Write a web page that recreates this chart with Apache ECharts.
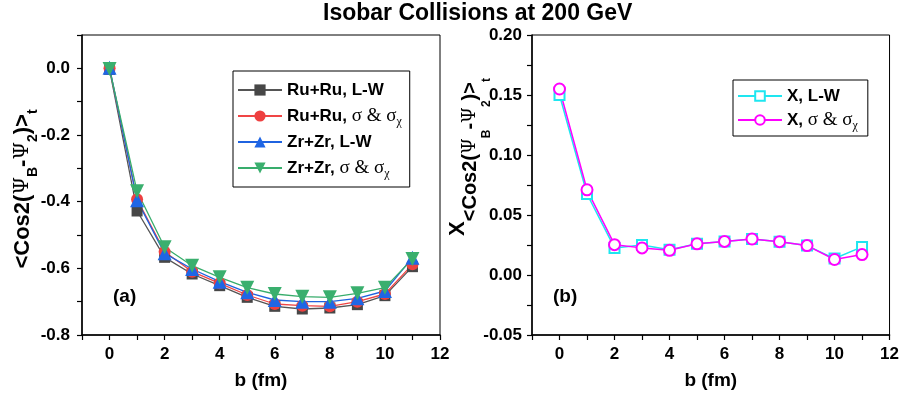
<!DOCTYPE html>
<html>
<head>
<meta charset="utf-8">
<script src="https://cdn.jsdelivr.net/npm/echarts@6/dist/echarts.min.js"></script>
<style>
html, body { margin: 0; padding: 0; background: #fff; }
#myChart1 { width: 902px; height: 395px; }
</style>
</head>
<body>
<div id="myChart1"></div>
<script>
// impact parameter b (fm)
var bValues = [0, 1, 2, 3, 4, 5, 6, 7, 8, 9, 10, 11];

// panel (a): <Cos2(PsiB - Psi2)>_t
var ruLW = [-0.003, -0.428, -0.567, -0.617, -0.652, -0.687, -0.714, -0.722, -0.719, -0.709, -0.682, -0.595];
var ruSig = [0.0, -0.393, -0.550, -0.610, -0.645, -0.680, -0.707, -0.712, -0.714, -0.700, -0.677, -0.588];
var zrLW = [0.002, -0.396, -0.555, -0.602, -0.640, -0.672, -0.695, -0.700, -0.700, -0.690, -0.668, -0.568];
var zrSig = [-0.002, -0.369, -0.537, -0.592, -0.627, -0.658, -0.677, -0.685, -0.687, -0.675, -0.658, -0.572];

// panel (b): X
var xLW = [0.150, 0.0675, 0.0226, 0.025, 0.021, 0.026, 0.028, 0.030, 0.0278, 0.0245, 0.0137, 0.0234];
var xSig = [0.155, 0.071, 0.0253, 0.0226, 0.0206, 0.026, 0.028, 0.030, 0.0278, 0.0245, 0.0129, 0.017];

var legendNames = {
    'ruLW': 'Ru+Ru, L-W',
    'ruSig': 'Ru+Ru, {g|σ} {g|&} {g|σ}{s|χ}',
    'zrLW': 'Zr+Zr, L-W',
    'zrSig': 'Zr+Zr, {g|σ} {g|&} {g|σ}{s|χ}',
    'xLW': 'X, L-W',
    'xSig': 'X, {g|σ} {g|&} {g|σ}{s|χ}'
};

function pairs(ys) {
    return bValues.map(function (b, i) { return [b, ys[i]]; });
}

var FONT = 'Liberation Sans';
var SERIF = 'DejaVu Serif';

var legendRich = {
    g: { fontFamily: 'Liberation Serif', fontSize: 19, fontWeight: 'normal', color: '#000', lineHeight: 24 },
    s: { fontFamily: 'Liberation Serif', fontSize: 12, fontWeight: 'normal', color: '#000', verticalAlign: 'bottom', lineHeight: 24 }
};

function xAxisOf(idx) {
    return {
        gridIndex: idx,
        type: 'value',
        min: -1, max: 12, interval: 1,
        name: 'b (fm)',
        nameLocation: 'middle',
        nameGap: 36,
        nameTextStyle: { fontFamily: FONT, fontSize: 19, fontWeight: 'bold', color: '#000' },
        axisLine: { onZero: false, lineStyle: { color: '#000', width: 1.5 } },
        axisTick: { inside: false, length: 5, lineStyle: { color: '#000', width: 1.2 } },
        axisLabel: {
            margin: 11,
            fontFamily: FONT, fontSize: 17, fontWeight: 'bold', color: '#000',
            formatter: function (v) { return (v >= 0 && v % 2 === 0) ? String(v) : ''; }
        },
        splitLine: { show: false }
    };
}

function yAxisOf(idx, min, max, step, fmt, margin) {
    return {
        gridIndex: idx,
        type: 'value',
        min: min, max: max, interval: step,
        axisLine: { onZero: false, lineStyle: { color: '#000', width: 1.5 } },
        axisTick: { inside: false, length: 5, lineStyle: { color: '#000', width: 1.2 } },
        axisLabel: {
            margin: margin,
            fontFamily: FONT, fontSize: 17, fontWeight: 'bold', color: '#000',
            formatter: fmt
        },
        splitLine: { show: false }
    };
}

// rotated y-axis titles with sub/sub-subscripts
var yNameA = '{a|<Cos2(}{g|Ψ}{b|B}{a|-}{g|Ψ}{b|2}{a|)>}{b|t}';
var yNameB = '{x|X}{a|<Cos2(}{g|Ψ}{b|B}{a|-}{g|Ψ}{b|2}{a|)>}{b|t}';

var option = {
    backgroundColor: '#fff',
    animation: false,
    title: {
        text: 'Isobar Collisions at 200 GeV',
        left: 323, top: 2, padding: 0,
        textStyle: { fontFamily: FONT, fontSize: 23, fontWeight: 'bold', color: '#000' }
    },
    grid: [
        { left: 82, right: 462, top: 35, bottom: 58, show: true, borderColor: '#000', borderWidth: 1 },
        { left: 532, right: 12, top: 35, bottom: 58, show: true, borderColor: '#000', borderWidth: 1 }
    ],
    legend: [
        {
            data: ['ruLW', 'ruSig', 'zrLW', 'zrSig'],
            orient: 'vertical',
            left: 233, top: 71,
            borderColor: '#000', borderWidth: 1,
            padding: [7, 8, 7, 4],
            itemWidth: 44, itemHeight: 14, itemGap: 2,
            formatter: function (n) { return legendNames[n]; },
            textStyle: { fontFamily: FONT, fontSize: 17, fontWeight: 'bold', color: '#000', lineHeight: 24, rich: legendRich }
        },
        {
            data: ['xLW', 'xSig'],
            orient: 'vertical',
            left: 733, top: 80,
            borderColor: '#000', borderWidth: 1,
            padding: [4, 10, 4, 4],
            itemWidth: 44, itemHeight: 12, itemGap: 0,
            formatter: function (n) { return legendNames[n]; },
            textStyle: { fontFamily: FONT, fontSize: 17, fontWeight: 'bold', color: '#000', lineHeight: 24, rich: legendRich }
        }
    ],
    xAxis: [xAxisOf(0), xAxisOf(1)],
    yAxis: [
        yAxisOf(0, -0.8, 0.1, 0.1, function (v) {
            var k = Math.round(v * 10);
            if (k > 0 || k % 2 !== 0) return '';
            return (k / 10).toFixed(1);
        }, 12),
        yAxisOf(1, -0.05, 0.2, 0.025, function (v) {
            var k = Math.round(v * 40);
            if (k % 2 !== 0) return '';
            return (k / 40).toFixed(2);
        }, 10)
    ],
    graphic: [
        { type: 'text', left: 113, top: 287, style: { text: '(a)', font: 'bold 19px "Liberation Sans"', fill: '#000' } },
        { type: 'text', left: 553, top: 287, style: { text: '(b)', font: 'bold 19px "Liberation Sans"', fill: '#000' } },
        {
            type: 'text', x: 5, y: 189, rotation: Math.PI / 2,
            style: {
                text: yNameA,
                align: 'center', verticalAlign: 'top',
                textAlign: 'center', textVerticalAlign: 'top',
                rich: {
                    a: { fontFamily: FONT, fontSize: 22, fontWeight: 'bold', fill: '#000', lineHeight: 35, verticalAlign: 'middle' },
                    g: { fontFamily: SERIF, fontSize: 20, fontWeight: 'normal', fill: '#000', lineHeight: 35, verticalAlign: 'middle' },
                    b: { fontFamily: FONT, fontSize: 14, fontWeight: 'bold', fill: '#000', lineHeight: 14, verticalAlign: 'bottom' }
                }
            }
        },
        {
            type: 'text', x: 447, y: 157, rotation: Math.PI / 2,
            style: {
                text: yNameB,
                align: 'center', verticalAlign: 'top',
                textAlign: 'center', textVerticalAlign: 'top',
                rich: {
                    x: { fontFamily: FONT, fontSize: 22, fontWeight: 'bold', fill: '#000', lineHeight: 22, verticalAlign: 'top' },
                    a: { fontFamily: FONT, fontSize: 20, fontWeight: 'bold', fill: '#000', lineHeight: 46, verticalAlign: 'middle' },
                    g: { fontFamily: SERIF, fontSize: 18, fontWeight: 'normal', fill: '#000', lineHeight: 46, verticalAlign: 'middle' },
                    b: { fontFamily: FONT, fontSize: 12, fontWeight: 'bold', fill: '#000', lineHeight: 12, verticalAlign: 'bottom' }
                }
            }
        }
    ],
    series: [
        {
            name: 'ruLW', type: 'line', xAxisIndex: 0, yAxisIndex: 0,
            data: pairs(ruLW), symbol: 'rect', symbolSize: 11,
            lineStyle: { color: '#555', width: 1.3 },
            itemStyle: { color: '#474747' }
        },
        {
            name: 'ruSig', type: 'line', xAxisIndex: 0, yAxisIndex: 0,
            data: pairs(ruSig), symbol: 'circle', symbolSize: 12,
            lineStyle: { color: '#f04545', width: 1.3 },
            itemStyle: { color: '#ee4040' }
        },
        {
            name: 'zrLW', type: 'line', xAxisIndex: 0, yAxisIndex: 0,
            data: pairs(zrLW), symbol: 'triangle', symbolSize: 14,
            lineStyle: { color: '#1f63e0', width: 1.3 },
            itemStyle: { color: '#1f66e5' }
        },
        {
            name: 'zrSig', type: 'line', xAxisIndex: 0, yAxisIndex: 0,
            data: pairs(zrSig), symbol: 'triangle', symbolRotate: 180, symbolSize: 14,
            lineStyle: { color: '#38ad6c', width: 1.3 },
            itemStyle: { color: '#3aaf6e' }
        },
        {
            name: 'xLW', type: 'line', xAxisIndex: 1, yAxisIndex: 1,
            data: pairs(xLW), symbol: 'emptyRect', symbolSize: 10,
            lineStyle: { color: '#1ee6f0', width: 1.5 },
            itemStyle: { color: '#1ee6f0', borderColor: '#1ee6f0', borderWidth: 2 }
        },
        {
            name: 'xSig', type: 'line', xAxisIndex: 1, yAxisIndex: 1,
            data: pairs(xSig), symbol: 'emptyCircle', symbolSize: 11,
            lineStyle: { color: '#ff00ff', width: 1.5 },
            itemStyle: { color: '#ff00ff', borderColor: '#ff00ff', borderWidth: 2.2 }
        },
        {
            name: 'xLWdot', type: 'scatter', xAxisIndex: 1, yAxisIndex: 1,
            data: pairs(xLW), symbol: 'rect', symbolSize: 2.5,
            itemStyle: { color: '#1ee6f0' }, silent: true
        },
        {
            name: 'xSigdot', type: 'scatter', xAxisIndex: 1, yAxisIndex: 1,
            data: pairs(xSig), symbol: 'circle', symbolSize: 2.5,
            itemStyle: { color: '#ff00ff' }, silent: true
        }
    ]
};

var myChart = echarts.init(document.getElementById('myChart1'));
myChart.setOption(option);
</script>
</body>
</html>
